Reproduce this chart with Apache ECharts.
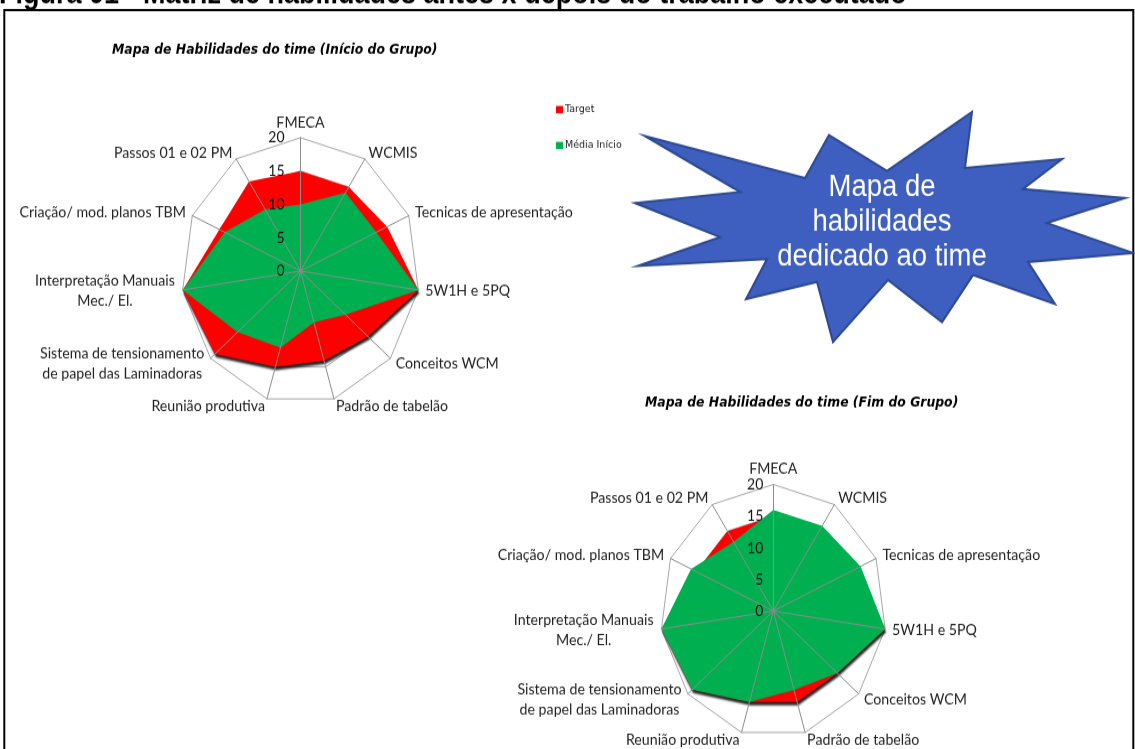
<!DOCTYPE html>
<html>
<head>
<meta charset="utf-8">
<script src="https://cdn.jsdelivr.net/npm/echarts@6/dist/echarts.min.js"></script>
<style>
html, body { margin: 0; padding: 0; background: #fff; overflow: hidden; }
#wrap { width: 1135px; height: 749px; overflow: hidden; position: relative; }
#main { width: 1135px; height: 669px; transform: scaleY(1.12); transform-origin: 0 0; }
</style>
</head>
<body>
<div id="wrap"><div id="main"></div></div>
<script>
// the original picture is stretched vertically, so the chart is drawn flat and scaled
var S = 1.12;

// skills listed clockwise from the top
var skills = ['FMECA', 'WCMIS', 'Tecnicas de apresentação', '5W1H e 5PQ', 'Conceitos WCM',
  'Padrão de tabelão', 'Reunião produtiva', 'Sistema de tensionamento\nde papel das Laminadoras',
  'Interpretação Manuais\nMec./ El.', 'Criação/ mod. planos TBM', 'Passos 01 e 02 PM'];
var ticks = [0, 5, 10, 15, 20];

var targetInicio = [15, 15, 16, 20, 15, 14, 15, 19, 20, 15, 16];
var mediaInicio = [10, 14, 14, 20, 10, 8, 12, 14, 20, 14, 11];
var targetFim = [15, 15, 16, 20, 15, 15, 15, 19, 20, 15, 15];
var mediaFim = [16, 16, 17, 20, 15, 13, 15, 19, 20, 16, 13];

var NAME_FONT = 'Lato';
var NAME_SIZE = 14.2;
var NAME_COLOR = '#222';
var RED = '#ff0000';
var GREEN = '#00b050';

// echarts radar runs counter-clockwise: keep the first axis, reverse the rest
function cw(arr) {
  return [arr[0]].concat(arr.slice(1).reverse());
}

// two-line axis names: centre the lines on each other
var ctx = document.createElement('canvas').getContext('2d');
ctx.font = NAME_SIZE + 'px ' + NAME_FONT;
var rich = {};
var names = skills.map(function (s, i) {
  if (s.indexOf('\n') < 0) return s;
  var lines = s.split('\n');
  var w = Math.max.apply(null, lines.map(function (l) { return ctx.measureText(l).width; }));
  rich['k' + i] = { width: w + 2, align: 'center', fontSize: NAME_SIZE, fontFamily: NAME_FONT, color: NAME_COLOR, lineHeight: 18 };
  return lines.map(function (l) { return '{k' + i + '|' + l + '}'; }).join('\n');
});

function indicators(withLabel) {
  return cw(names).map(function (n, i) {
    var o = { name: n, min: ticks[0], max: ticks[ticks.length - 1] };
    if (withLabel && i === 0) o.axisLabel = { show: true };
    return o;
  });
}

function radars(cx, cy, r, labelMargin) {
  var common = {
    center: [cx, cy / S],
    radius: r,
    startAngle: 90,
    shape: 'polygon',
    splitNumber: ticks.length - 1
  };
  var under = Object.assign({}, common, {
    z: 1,
    indicator: indicators(false),
    axisName: { show: false },
    axisLine: { show: false },
    axisTick: { show: false },
    axisLabel: { show: false },
    splitArea: { show: false },
    splitLine: { lineStyle: { color: '#a6a6a6', width: 1 } }
  });
  var over = Object.assign({}, common, {
    z: 3,
    indicator: indicators(true),
    axisNameGap: 7,
    axisName: { color: NAME_COLOR, fontSize: NAME_SIZE, fontFamily: NAME_FONT, rich: rich },
    axisLine: { lineStyle: { color: '#8c8c8c', width: 1 } },
    axisTick: { show: false },
    axisLabel: { show: false, color: '#111', fontSize: 14, fontFamily: NAME_FONT, margin: labelMargin },
    splitArea: { show: false },
    splitLine: { show: false }
  });
  return [under, over];
}

function radarSeries(idx, target, media, mediaName) {
  return {
    type: 'radar',
    radarIndex: idx,
    z: 2,
    symbol: 'none',
    silent: true,
    lineStyle: { width: 0 },
    data: [
      {
        name: 'Target', value: cw(target),
        itemStyle: { color: RED },
        areaStyle: { color: RED, opacity: 1, shadowColor: 'rgba(0,0,0,0.85)', shadowBlur: 2, shadowOffsetX: 1, shadowOffsetY: 3 }
      },
      {
        name: mediaName, value: cw(media),
        itemStyle: { color: GREEN },
        areaStyle: { color: GREEN, opacity: 1 }
      }
    ]
  };
}

// star burst outline (picture coordinates)
var starPts = [[645,136],[805,178],[829,135],[887,171],[972,112],[965,168],[1062,159],[1023,189],
  [1125,198],[1047,223],[1133,253],[1028,262],[1055,304],[973,275],[942,322],[888,280],[833,342],
  [817,282],[746,299],[767,259],[638,266],[720,237],[635,203],[740,192]];

var r1 = radars(300.5, 271, 119, 16);
var r2 = radars(773.3, 611, 113, 10);

var TITLE_STYLE = { fontSize: 12.4, fontWeight: 'bold', fontStyle: 'italic', fontFamily: 'DejaVu Sans', color: '#000' };

var myChart = echarts.init(document.getElementById('main'));
myChart.setOption({
  animation: false,
  title: [
    { text: 'Mapa de Habilidades do time (Início do Grupo)', left: 107, top: 38 / S, textStyle: TITLE_STYLE },
    { text: 'Mapa de Habilidades do time (Fim do Grupo)', left: 640, top: 391 / S, textStyle: TITLE_STYLE }
  ],
  legend: {
    data: ['Target', 'Média Início'],
    orient: 'vertical',
    left: 556, top: 104 / S,
    itemWidth: 7, itemHeight: 6.5,
    itemGap: 22,
    icon: 'rect',
    padding: 0,
    selectedMode: false,
    textStyle: { fontSize: 9.5, fontFamily: 'DejaVu Sans', color: '#222', padding: [0, 0, 0, -3] }
  },
  radar: [r1[0], r1[1], r2[0], r2[1]],
  series: [
    radarSeries(0, targetInicio, mediaInicio, 'Média Início'),
    radarSeries(2, targetFim, mediaFim, 'Média Fim')
  ],
  graphic: [
    { type: 'text', x: -1, y: -4, silent: true,
      style: { text: 'Figura 01 - Matriz de habilidades antes x depois do trabalho executado',
        font: 'bold 27px "Liberation Sans", Arial', fill: '#000', verticalAlign: 'middle' } },
    { type: 'rect', silent: true, shape: { x: 4.3, y: 10 / S, width: 1129, height: 800 },
      style: { fill: 'none', stroke: '#000', lineWidth: 2 } },
    { type: 'polygon', silent: true,
      shape: { points: starPts.map(function (p) { return [p[0], p[1] / S]; }) },
      style: { fill: '#3e5fc0', stroke: '#2d4a90', lineWidth: 2 } },
    { type: 'text', silent: true, x: 882, y: 222 / S,
      style: { text: 'Mapa de\nhabilidades\ndedicado ao time', fill: '#fff',
        font: '27.5px "Liberation Sans", Arial', align: 'center', verticalAlign: 'middle', lineHeight: 31 } }
  ]
});
</script>
</body>
</html>
